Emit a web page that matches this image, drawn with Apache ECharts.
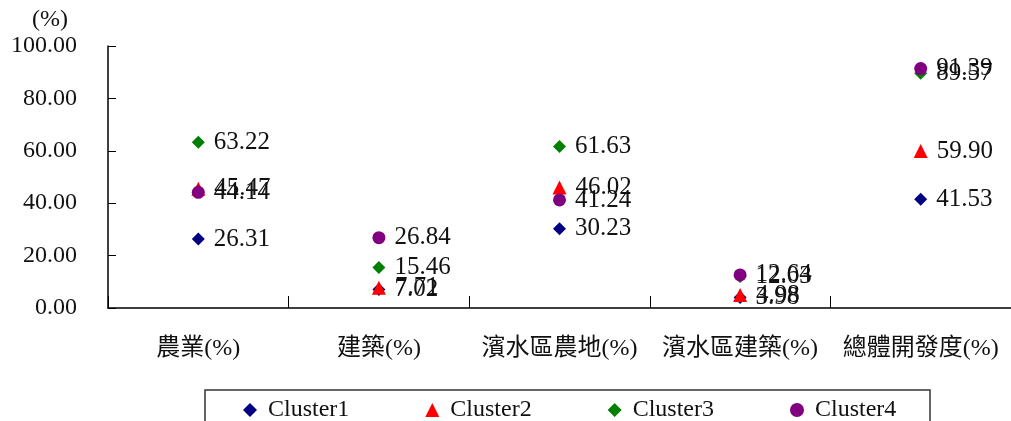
<!DOCTYPE html>
<html>
<head>
<meta charset="utf-8">
<script src="https://cdn.jsdelivr.net/npm/echarts@6/dist/echarts.min.js"></script>
<style>
  html, body { margin: 0; padding: 0; background: #fff; }
  #main { width: 1011px; height: 421px; }
</style>
</head>
<body>
<div id="main"></div>
<script>
// 類別與各群數值
var categories = ['農業(%)', '建築(%)', '濱水區農地(%)', '濱水區建築(%)', '總體開發度(%)'];
var cluster1 = [26.31, 7.02, 30.23, 3.98, 41.53];
var cluster2 = [45.47, 7.71, 46.02, 4.98, 59.90];
var cluster3 = [63.22, 15.46, 61.63, 12.03, 89.57];
var cluster4 = [44.14, 26.84, 41.24, 12.64, 91.39];
var yTicks = [0, 20, 40, 60, 80, 100];

var serif = '"Liberation Serif", "Times New Roman", serif';
var cjk = '"Liberation Serif", "Noto Sans CJK TC", serif';

function makeSeries(name, data, symbol, size, color) {
    return {
        name: name,
        type: 'scatter',
        data: data,
        symbol: symbol,
        symbolSize: size,
        itemStyle: { color: color, opacity: 1 },
        label: {
            show: true,
            position: 'right',
            distance: 9,
            color: '#111',
            fontFamily: serif,
            fontSize: 25,
            padding: [3, 0, 0, 0],
            formatter: function (p) { return p.value.toFixed(2) }
        },
        labelLayout: { hideOverlap: false },
        emphasis: { disabled: true }
    }
}

var myChart = echarts.init(document.getElementById('main'))

var option = {
    animation: false,
    grid: { left: 108, right: -2, top: 46, bottom: 113 },
    xAxis: {
        type: 'category',
        data: categories,
        boundaryGap: true,
        axisLine: { lineStyle: { color: '#000', width: 1.5 } },
        axisTick: { show: true, inside: true, length: 12, interval: 0, lineStyle: { color: '#000' } },
        axisLabel: {
            color: '#111',
            fontSize: 24,
            fontFamily: cjk,
            interval: 0,
            hideOverlap: false,
            margin: 29
        },
        splitLine: { show: false }
    },
    yAxis: {
        type: 'value',
        min: yTicks[0],
        max: yTicks[yTicks.length - 1],
        interval: 20,
        name: '(%)',
        nameLocation: 'end',
        nameGap: 14,
        nameTextStyle: { fontFamily: serif, fontSize: 24, color: '#111', align: 'center', padding: [0, 0, 0, -116] },
        axisLine: { show: true, lineStyle: { color: '#000', width: 1.5 } },
        axisTick: { show: true, inside: true, length: 8, lineStyle: { color: '#000' } },
        axisLabel: {
            color: '#111',
            fontSize: 24,
            fontFamily: serif,
            margin: 31,
            padding: [5, 0, 0, 0],
            formatter: function (v) { return v.toFixed(2) }
        },
        splitLine: { show: false }
    },
    legend: {
        left: 238,
        top: 393,
        itemGap: 76,
        itemWidth: 14,
        itemHeight: 14,
        textStyle: { fontFamily: serif, fontSize: 24, color: '#111', padding: [0, 0, 0, 6] },
        data: ['Cluster1', 'Cluster2', 'Cluster3', 'Cluster4']
    },
    graphic: [{
        type: 'rect',
        shape: { x: 205, y: 390, width: 725, height: 40 },
        style: { fill: 'none', stroke: '#333', lineWidth: 1.5 }
    }],
    series: [
        makeSeries('Cluster1', cluster1, 'diamond', 13, '#000080'),
        makeSeries('Cluster2', cluster2, 'triangle', 14, '#ff0000'),
        makeSeries('Cluster3', cluster3, 'diamond', 13, '#008000'),
        makeSeries('Cluster4', cluster4, 'circle', 13, '#800080')
    ]
}

myChart.setOption(option)
</script>
</body>
</html>
